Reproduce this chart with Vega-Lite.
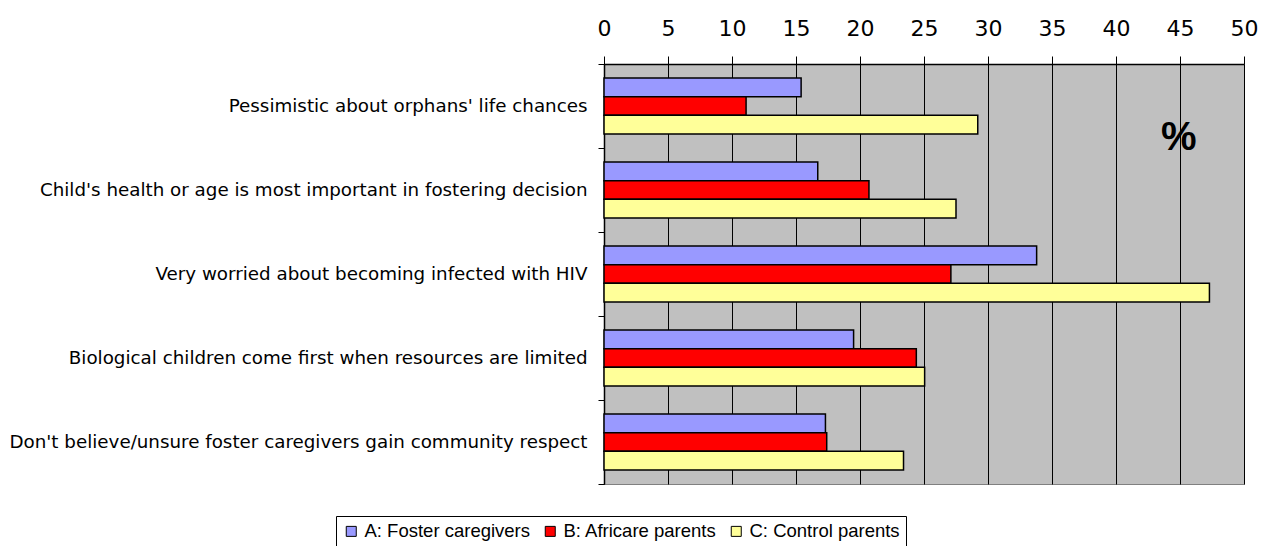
{
  "$schema": "https://vega.github.io/schema/vega-lite/v6.json",
  "width": 640,
  "height": 420,
  "autosize": "none",
  "padding": {"left": 604, "top": 64, "right": 18, "bottom": 62},
  "background": "white",
  "config": {
    "font": "Liberation Sans",
    "view": {"fill": "#C0C0C0", "stroke": "#808080", "strokeWidth": 1}
  },
  "data": {
    "values": [
      {"category": "Pessimistic about orphans' life chances", "group": "A: Foster caregivers", "value": 15.4},
      {"category": "Pessimistic about orphans' life chances", "group": "B: Africare parents", "value": 11.1},
      {"category": "Pessimistic about orphans' life chances", "group": "C: Control parents", "value": 29.2},
      {"category": "Child's health or age is most important in fostering decision", "group": "A: Foster caregivers", "value": 16.7},
      {"category": "Child's health or age is most important in fostering decision", "group": "B: Africare parents", "value": 20.7},
      {"category": "Child's health or age is most important in fostering decision", "group": "C: Control parents", "value": 27.5},
      {"category": "Very worried about becoming infected with HIV", "group": "A: Foster caregivers", "value": 33.8},
      {"category": "Very worried about becoming infected with HIV", "group": "B: Africare parents", "value": 27.1},
      {"category": "Very worried about becoming infected with HIV", "group": "C: Control parents", "value": 47.3},
      {"category": "Biological children come first when resources are limited", "group": "A: Foster caregivers", "value": 19.5},
      {"category": "Biological children come first when resources are limited", "group": "B: Africare parents", "value": 24.4},
      {"category": "Biological children come first when resources are limited", "group": "C: Control parents", "value": 25.05},
      {"category": "Don't believe/unsure foster caregivers gain community respect", "group": "A: Foster caregivers", "value": 17.3},
      {"category": "Don't believe/unsure foster caregivers gain community respect", "group": "B: Africare parents", "value": 17.4},
      {"category": "Don't believe/unsure foster caregivers gain community respect", "group": "C: Control parents", "value": 23.4}
    ]
  },
  "layer": [
    {
      "mark": {"type": "bar", "stroke": "black", "strokeWidth": 1.5},
      "encoding": {
        "y": {
          "field": "category",
          "type": "nominal",
          "sort": null,
          "scale": {"paddingInner": 0, "paddingOuter": 0},
          "axis": {
            "title": null,
            "tickBand": "extent",
            "tickSize": 6,
            "tickColor": "black",
            "domainColor": "black",
            "domainWidth": 1.5,
            "labelPadding": 11,
            "labelFont": "DejaVu Sans",
            "labelFontSize": 18.3,
            "labelColor": "black",
            "labelLimit": 700
          }
        },
        "yOffset": {"field": "group", "type": "nominal", "scale": {"paddingInner": 0, "paddingOuter": 0.75}},
        "x": {
          "field": "value",
          "type": "quantitative",
          "scale": {"domain": [0, 50], "nice": false},
          "axis": {
            "orient": "top",
            "title": null,
            "values": [0, 5, 10, 15, 20, 25, 30, 35, 40, 45, 50],
            "grid": true,
            "gridColor": "black",
            "gridOpacity": 1,
            "gridWidth": 1,
            "tickSize": 8,
            "tickColor": "black",
            "domainColor": "black",
            "domainWidth": 1.5,
            "labelPadding": 16,
            "labelFont": "DejaVu Sans",
            "labelFontSize": 22,
            "labelColor": "black",
            "labelFlush": false
          }
        },
        "color": {
          "field": "group",
          "type": "nominal",
          "scale": {"range": ["#9999FF", "#FF0000", "#FFFF99"]},
          "legend": {
            "title": null,
            "orient": "none",
            "legendX": -268,
            "legendY": 452,
            "direction": "horizontal",
            "symbolType": "square",
            "symbolSize": 100,
            "symbolStrokeColor": "black",
            "symbolStrokeWidth": 1,
            "symbolOpacity": 1,
            "labelFontSize": 18.5,
            "labelColor": "black",
            "labelLimit": 300,
            "labelOffset": 4,
            "columnPadding": 10,
            "strokeColor": "black",
            "fillColor": "white",
            "padding": 6
          }
        }
      }
    },
    {
      "data": {"values": [{"label": "%", "x": 44.9, "category": "Pessimistic about orphans' life chances"}]},
      "mark": {"type": "text", "fontSize": 40, "fontWeight": "bold", "color": "black", "dy": 32, "baseline": "middle", "align": "center"},
      "encoding": {
        "x": {"field": "x", "type": "quantitative"},
        "y": {"field": "category", "type": "nominal", "sort": null},
        "text": {"field": "label"}
      }
    }
  ]
}
